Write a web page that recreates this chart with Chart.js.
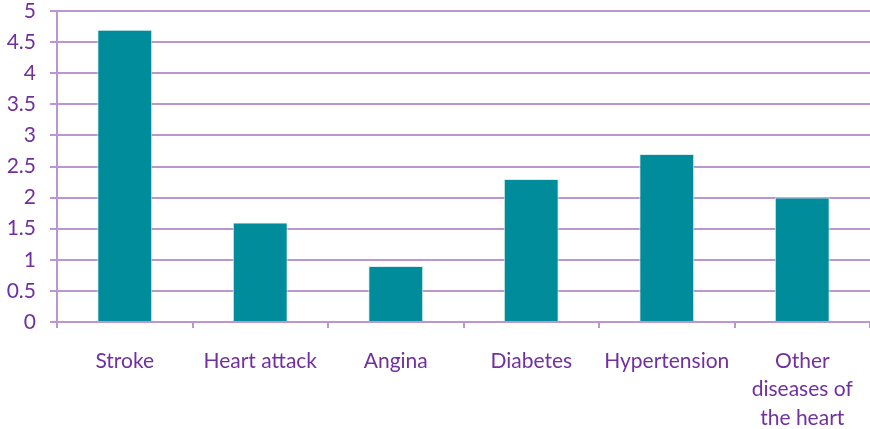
<!DOCTYPE html>
<html><head><meta charset="utf-8">
<script src="https://cdn.jsdelivr.net/npm/chart.js@4/dist/chart.umd.min.js"></script>
<style>html,body{margin:0;padding:0;background:#fff}#wrap{width:870px;height:429px}</style>
</head><body><div id="wrap"><canvas id="c" width="870" height="429"></canvas></div>
<script>
const categories = ["Stroke", "Heart attack", "Angina", "Diabetes", "Hypertension", ["Other", "diseases of", "the heart"]];
const values = [4.7, 1.6, 0.9, 2.3, 2.7, 2.0];
const yMin = 0, yMax = 5, yStep = 0.5;

const purple = "#7030A0";
const gridCol = "#BC96CE";
const barCol = "#008C9A";

new Chart(document.getElementById("c"), {
  type: "bar",
  data: {
    labels: categories,
    datasets: [{
      data: values,
      backgroundColor: barCol,
      borderColor: "#D8EEF0",
      borderWidth: 1,
      categoryPercentage: 1,
      barPercentage: 0.405
    }]
  },
  options: {
    responsive: false,
    animation: false,
    layout: { padding: { top: 11, right: 0, left: 0, bottom: 0 } },
    plugins: { legend: { display: false }, tooltip: { enabled: false } },
    scales: {
      x: {
        offset: true,
        grid: { offset: true, drawOnChartArea: false, color: gridCol, lineWidth: 2, tickLength: 6 },
        border: { color: gridCol, width: 2 },
        ticks: { color: purple, font: { family: "Lato", size: 21, lineHeight: 1.35 }, padding: 19, maxRotation: 0, autoSkip: false },
        afterFit: s => { s.height = 107; s.paddingLeft = 0; s.paddingRight = 0; }
      },
      y: {
        min: yMin, max: yMax,
        ticks: { stepSize: yStep, color: purple, font: { family: "Lato", size: 21 }, padding: 14,
          callback: v => String(Math.round(v * 10) / 10) },
        grid: { color: gridCol, lineWidth: 2, tickLength: 7 },
        border: { color: gridCol, width: 2 },
        afterFit: s => { s.width = 57; s.paddingTop = 0; s.paddingBottom = 0; }
      }
    }
  }
});
</script></body></html>
